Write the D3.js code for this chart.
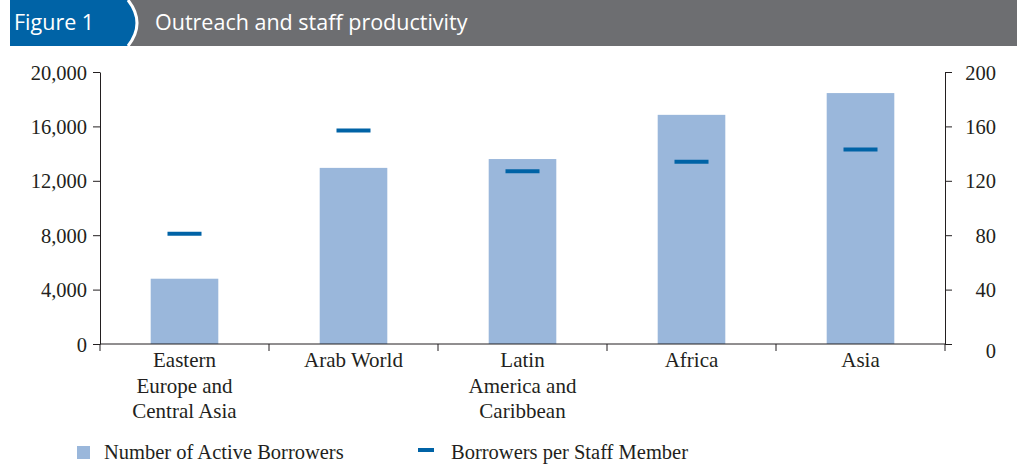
<!DOCTYPE html>
<html>
<head>
<meta charset="utf-8">
<script src="https://cdn.jsdelivr.net/npm/d3@7"></script>
<style>
  body { margin: 0; background: #fff; }
  svg { display: block; }
</style>
</head>
<body>
<script>
// chart data
var regions = [
  ["Eastern", "Europe and", "Central Asia"],
  ["Arab World"],
  ["Latin", "America and", "Caribbean"],
  ["Africa"],
  ["Asia"]
];
var activeBorrowers = [4800, 12950, 13600, 16850, 18450];
var borrowersPerStaff = [81, 157, 127, 134, 143];
var leftTicks = [0, 4000, 8000, 12000, 16000, 20000];
var rightTicks = [0, 40, 80, 120, 160, 200];
var seriesNames = ["Number of Active Borrowers", "Borrowers per Staff Member"];

var W = 1017, H = 464;
var margin = {top: 72, right: 72, bottom: 120, left: 100},
    width = W - margin.left - margin.right,
    height = H - margin.top - margin.bottom;

var serif = "'Liberation Serif', 'DejaVu Serif', serif";

var svg = d3.select("body").append("svg")
    .attr("width", W)
    .attr("height", H);

// header band
svg.append("rect")
    .attr("x", 0).attr("y", 0)
    .attr("width", W).attr("height", 46)
    .attr("fill", "#6d6e71");
svg.append("rect")
    .attr("x", 0).attr("y", 0)
    .attr("width", 10).attr("height", 46)
    .attr("fill", "#fff");
svg.append("path")
    .attr("d", "M10,0 L128,0 Q146,23 128,46 L10,46 Z")
    .attr("fill", "#0063a6");
svg.append("path")
    .attr("d", "M128,0 Q146,23 128,46")
    .attr("fill", "none")
    .attr("stroke", "#fff")
    .attr("stroke-width", 3);
svg.append("text")
    .attr("x", 14).attr("y", 30)
    .attr("fill", "#fff")
    .style("font-family", "'Open Sans', 'Noto Sans', sans-serif")
    .style("font-size", "21.5px")
    .text("Figure 1");
svg.append("text")
    .attr("x", 155).attr("y", 30)
    .attr("fill", "#fff")
    .style("font-family", "'Open Sans', 'Noto Sans', sans-serif")
    .style("font-size", "21.5px")
    .text("Outreach and staff productivity");

var g = svg.append("g")
    .attr("transform", "translate(" + margin.left + "," + margin.top + ")");

var x = d3.scaleBand()
    .domain(d3.range(regions.length))
    .range([0, width])
    .paddingInner(0.6)
    .paddingOuter(0.3);

var band = d3.scaleBand()
    .domain(d3.range(regions.length))
    .range([0, width]);

var y = d3.scaleLinear().domain([0, 20000]).range([height, 0]);
var y2 = d3.scaleLinear().domain([0, 200]).range([height, 0]);

// bars
g.selectAll(".bar")
    .data(activeBorrowers)
    .enter().append("rect")
    .attr("class", "bar")
    .attr("x", function(d, i) { return x(i); })
    .attr("width", x.bandwidth())
    .attr("y", function(d) { return y(d); })
    .attr("height", function(d) { return height - y(d); })
    .attr("fill", "#9ab7db");

// staff markers
g.selectAll(".marker")
    .data(borrowersPerStaff)
    .enter().append("line")
    .attr("class", "marker")
    .attr("x1", function(d, i) { return band(i) + band.bandwidth() / 2 - 17; })
    .attr("x2", function(d, i) { return band(i) + band.bandwidth() / 2 + 17; })
    .attr("y1", function(d) { return y2(d); })
    .attr("y2", function(d) { return y2(d); })
    .attr("stroke", "#0063a6")
    .attr("stroke-width", 4);

var axisColor = "#231f20";

function styleAxis(sel) {
  sel.select(".domain").attr("stroke", axisColor);
  sel.selectAll(".tick line").attr("stroke", axisColor);
  sel.selectAll("text")
      .attr("fill", "#231f20")
      .style("font-family", serif)
      .style("font-size", "20.5px");
}

// left axis
var yAxis = g.append("g")
    .call(d3.axisLeft(y).tickValues(leftTicks).tickSize(7).tickSizeOuter(0).tickPadding(6)
      .tickFormat(d3.format(",")));
styleAxis(yAxis);
yAxis.selectAll("text").attr("dy", "0.35em");

// right axis
var y2Axis = g.append("g")
    .attr("transform", "translate(" + width + ",0)")
    .call(d3.axisRight(y2).tickValues(rightTicks).tickSize(7).tickSizeOuter(0).tickPadding(0));
styleAxis(y2Axis);
y2Axis.selectAll("text")
    .attr("x", 51)
    .attr("text-anchor", "end")
    .attr("dy", "0.35em");
y2Axis.selectAll(".tick").filter(function(d) { return d === 0; })
    .select("text").attr("dy", "0.65em");

// bottom axis line with band boundary ticks
g.append("line")
    .attr("x1", 0).attr("x2", width)
    .attr("y1", height).attr("y2", height)
    .attr("stroke", axisColor);
g.selectAll(".btick")
    .data(d3.range(regions.length + 1))
    .enter().append("line")
    .attr("x1", function(i) { return i * band.step(); })
    .attr("x2", function(i) { return i * band.step(); })
    .attr("y1", height).attr("y2", height + 7)
    .attr("stroke", axisColor);

// category labels
var cat = g.selectAll(".cat")
    .data(regions)
    .enter().append("text")
    .attr("class", "cat")
    .attr("text-anchor", "middle")
    .attr("fill", "#231f20")
    .style("font-family", serif)
    .style("font-size", "21px")
    .attr("transform", function(d, i) {
      return "translate(" + (band(i) + band.bandwidth() / 2) + "," + (height + 23) + ")";
    });
cat.selectAll("tspan")
    .data(function(d) { return d; })
    .enter().append("tspan")
    .attr("x", 0)
    .attr("y", function(d, j) { return j * 25.5; })
    .text(function(d) { return d; });

// legend
var legend = svg.append("g");
legend.append("rect")
    .attr("x", 77).attr("y", 446)
    .attr("width", 13).attr("height", 13)
    .attr("fill", "#9ab7db");
legend.append("text")
    .attr("x", 104).attr("y", 459)
    .attr("fill", "#231f20")
    .style("font-family", serif)
    .style("font-size", "20.5px")
    .text(seriesNames[0]);
legend.append("line")
    .attr("x1", 418).attr("x2", 434)
    .attr("y1", 450).attr("y2", 450)
    .attr("stroke", "#0063a6")
    .attr("stroke-width", 4);
legend.append("text")
    .attr("x", 451).attr("y", 459)
    .attr("fill", "#231f20")
    .style("font-family", serif)
    .style("font-size", "20.5px")
    .text(seriesNames[1]);
</script>
</body>
</html>
